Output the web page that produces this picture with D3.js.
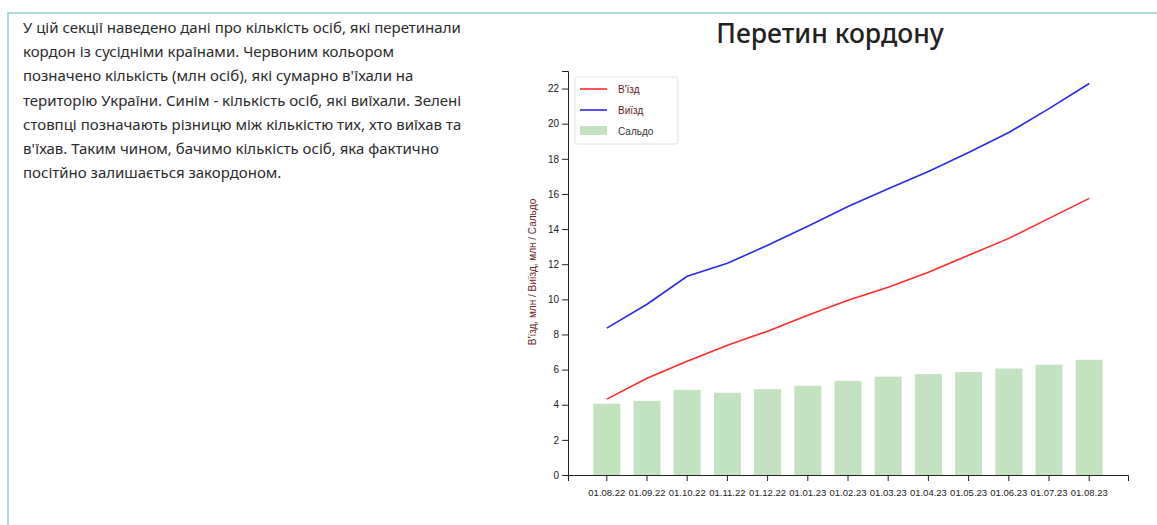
<!DOCTYPE html>
<html lang="uk">
<head>
<meta charset="utf-8">
<script src="https://cdn.jsdelivr.net/npm/d3@7"></script>
<style>
  html, body { margin: 0; padding: 0; background: #fff; }
  body { width: 1157px; height: 525px; overflow: hidden; position: relative; }
  .frame { position: absolute; left: 7px; top: 12px; right: 0; bottom: 0;
           border-left: 2px solid #a9dcdc; border-top: 2px solid #a9dcdc; }
  .intro { position: absolute; left: 23px; top: 15px; width: 500px;
           font-family: "Noto Sans", sans-serif; font-size: 15px; line-height: 24.2px;
           color: #2b2b2b; }
  svg { position: absolute; left: 0; top: 0; }
  .axis text { font-family: "Liberation Sans", Arial, sans-serif; fill: #222; }
  .axis path, .axis line { stroke: #222; }
</style>
</head>
<body>
<div class="frame"></div>
<div class="intro">
У цій секції наведено дані про кількість осіб, які перетинали<br>
кордон із сусідніми країнами. Червоним кольором<br>
позначено кількість (млн осіб), які сумарно в'їхали на<br>
територію України. Синім - кількість осіб, які виїхали. Зелені<br>
стовпці позначають різницю між кількістю тих, хто виїхав та<br>
в'їхав. Таким чином, бачимо кількість осіб, яка фактично<br>
посітйно залишається закордоном.
</div>
<svg id="chart" width="1157" height="525"></svg>
<script>
// Monthly cumulative border crossings, million people
const dates = ["01.08.22", "01.09.22", "01.10.22", "01.11.22", "01.12.22", "01.01.23",
               "01.02.23", "01.03.23", "01.04.23", "01.05.23", "01.06.23", "01.07.23", "01.08.23"];
const entered = [4.32, 5.51, 6.48, 7.39, 8.19, 9.10, 9.95, 10.69, 11.54, 12.51, 13.47, 14.61, 15.75];
const departed = [8.36, 9.72, 11.31, 12.05, 13.08, 14.16, 15.29, 16.30, 17.28, 18.36, 19.50, 20.86, 22.29];
const balance = [4.06, 4.21, 4.85, 4.68, 4.89, 5.08, 5.36, 5.60, 5.74, 5.86, 6.06, 6.28, 6.56];
const yTicks = [0, 2, 4, 6, 8, 10, 12, 14, 16, 18, 20, 22];

const title = "Перетин кордону";
const yLabel = "В'їзд, млн / Виїзд, млн / Сальдо";
const legendItems = [
  { name: "В'їзд", kind: "line", color: "#ff2a2a", text: "#5a1c1c" },
  { name: "Виїзд", kind: "line", color: "#2a2ae6", text: "#5a1c1c" },
  { name: "Сальдо", kind: "rect", color: "#c2e2c0", text: "#333" }
];

const svg = d3.select("#chart");
const plot = { left: 568, right: 1128, top: 71, bottom: 475 };

const x = d3.scaleBand()
  .domain(dates)
  .range([plot.left, plot.right])
  .paddingInner(0.33)
  .paddingOuter(0.63);

const y = d3.scaleLinear()
  .domain([0, 23])
  .range([plot.bottom, plot.top]);

// Title
svg.append("text")
  .attr("x", 830).attr("y", 43)
  .attr("text-anchor", "middle")
  .style("font-family", "'Noto Sans', sans-serif")
  .style("font-size", "26.5px")
  .style("font-weight", 500)
  .style("fill", "#222")
  .text(title);

// Balance bars
svg.append("g").selectAll("rect")
  .data(balance)
  .join("rect")
  .attr("x", (d, i) => x(dates[i]))
  .attr("width", x.bandwidth())
  .attr("y", d => y(d))
  .attr("height", d => y(0) - y(d))
  .attr("fill", "#c2e2c0");

// Lines through band centres
const cx = i => x(dates[i]) + x.bandwidth() / 2;
const line = d3.line().x((d, i) => cx(i)).y(d => y(d));

svg.append("path").datum(entered)
  .attr("d", line).attr("fill", "none")
  .attr("stroke", "#ff2a2a").attr("stroke-width", 1.6);

svg.append("path").datum(departed)
  .attr("d", line).attr("fill", "none")
  .attr("stroke", "#2a2ae6").attr("stroke-width", 1.6);

// Axes
const gx = svg.append("g").attr("class", "axis")
  .attr("transform", `translate(0,${plot.bottom})`)
  .call(d3.axisBottom(x).tickPadding(8));
gx.selectAll("text").style("font-size", "9.5px");

const gy = svg.append("g").attr("class", "axis")
  .attr("transform", `translate(${plot.left},0)`)
  .call(d3.axisLeft(y).tickValues(yTicks).tickFormat(d3.format("d")));
gy.selectAll("text").style("font-size", "10px");

// Y axis title
svg.append("text")
  .attr("transform", `translate(536,272) rotate(-90)`)
  .attr("text-anchor", "middle")
  .style("font-family", "'Liberation Sans', Arial, sans-serif")
  .style("font-size", "10px")
  .style("fill", "#6b2a2a")
  .text(yLabel);

// Legend
const lg = svg.append("g").attr("transform", "translate(575,77)");
lg.append("rect")
  .attr("width", 103).attr("height", 67).attr("rx", 2)
  .attr("fill", "#fff").attr("stroke", "#e2e2e2");
legendItems.forEach((it, i) => {
  const cy = 12 + i * 21;
  if (it.kind === "line") {
    lg.append("line").attr("x1", 5).attr("x2", 32).attr("y1", cy).attr("y2", cy)
      .attr("stroke", it.color).attr("stroke-width", 1.6);
  } else {
    lg.append("rect").attr("x", 5).attr("y", cy - 5).attr("width", 27).attr("height", 9)
      .attr("fill", it.color);
  }
  lg.append("text").attr("x", 43).attr("y", cy).attr("dy", "0.35em")
    .style("font-family", "'Liberation Sans', Arial, sans-serif")
    .style("font-size", "10px")
    .style("fill", it.text)
    .text(it.name);
});
</script>
</body>
</html>
